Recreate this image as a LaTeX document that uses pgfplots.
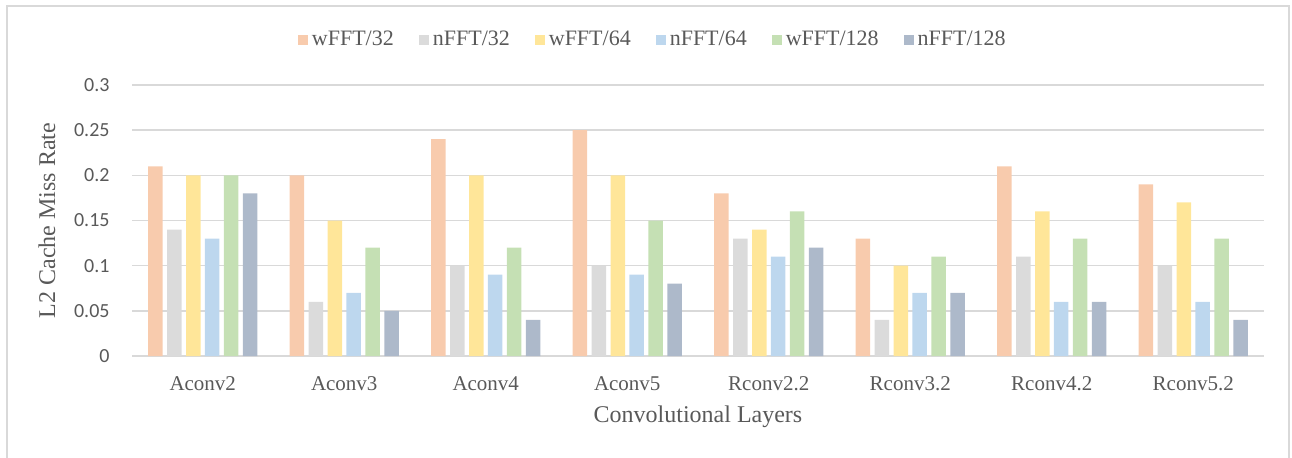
\documentclass[border=0pt]{standalone}
\usepackage{pgfplots}
\pgfplotsset{compat=1.18}
\usepackage{fontspec}
\setmainfont{Liberation Serif}
\newfontfamily\calibri{Carlito}
\definecolor{c1}{HTML}{F8CBAD}
\definecolor{c2}{HTML}{DBDBDB}
\definecolor{c3}{HTML}{FFE699}
\definecolor{c4}{HTML}{BDD7EE}
\definecolor{c5}{HTML}{C5E0B4}
\definecolor{c6}{HTML}{ADB9CA}
\definecolor{gridc}{HTML}{D9D9D9}
\definecolor{framec}{HTML}{D9D9D9}
\definecolor{txt}{HTML}{595959}
\begin{document}
\begin{tikzpicture}
\useasboundingbox (0,0) rectangle (646pt,-228.5pt);
\begin{scope}
\clip (0,0) rectangle (646pt,-228.5pt);
\draw[line width=0.75pt, color=framec] (3.5pt,-3pt) rectangle (644.5pt,-240pt);
\end{scope}
\begin{axis}[
  at={(66pt,-178pt)}, anchor=south west,
  scale only axis, width=566pt, height=135.5pt,
  ybar, bar width=0.1025,
  xmin=-0.5, xmax=7.5, ymin=0, ymax=0.3,
  xtick={0,1,2,3,4,5,6,7},
  xticklabels={Aconv2,Aconv3,Aconv4,Aconv5,Rconv2.2,Rconv3.2,Rconv4.2,Rconv5.2},
  ytick={0,0.05,0.1,0.15,0.2,0.25,0.3},
  yticklabels={0,0.05,0.1,0.15,0.2,0.25,0.3},
  ymajorgrids, grid style={line width=0.75pt, color=gridc},
  axis x line*=bottom, axis y line*=left,
  y axis line style={draw=none},
  x axis line style={line width=0.75pt, color=gridc, -},
  major tick length=0,
  xticklabel style={font=\fontsize{10.5pt}{12pt}\selectfont, text=txt, anchor=base, yshift=-17pt},
  yticklabel style={font=\calibri\fontsize{10pt}{12pt}\selectfont, text=txt, xshift=-7.7pt},
  xlabel={Convolutional Layers},
  xlabel style={at={(axis description cs:0.5,-0.2435)}, anchor=base, font=\fontsize{12pt}{14pt}\selectfont, text=txt},
  ylabel={L2 Cache Miss Rate},
  ylabel style={at={(axis description cs:-0.0751,0.5)}, anchor=center, font=\fontsize{12pt}{14pt}\selectfont, text=txt},
  legend style={at={(0.461,1.166)}, anchor=center, draw=none, fill=none,
    legend columns=6, font=\fontsize{11pt}{13pt}\selectfont, text=txt,
    /tikz/every even column/.append style={column sep=10.5pt},
    legend cell align=left},
  legend image code/.code={\fill[#1] (0pt,-2.5pt) rectangle (5pt,2.5pt);},
]
\addplot[fill=c1, draw=none, bar shift=-0.335] coordinates {(0,0.21) (1,0.20) (2,0.24) (3,0.25) (4,0.18) (5,0.13) (6,0.21) (7,0.19)};
\addplot[fill=c2, draw=none, bar shift=-0.201] coordinates {(0,0.14) (1,0.06) (2,0.10) (3,0.10) (4,0.13) (5,0.04) (6,0.11) (7,0.10)};
\addplot[fill=c3, draw=none, bar shift=-0.067] coordinates {(0,0.20) (1,0.15) (2,0.20) (3,0.20) (4,0.14) (5,0.10) (6,0.16) (7,0.17)};
\addplot[fill=c4, draw=none, bar shift=0.067] coordinates {(0,0.13) (1,0.07) (2,0.09) (3,0.09) (4,0.11) (5,0.07) (6,0.06) (7,0.06)};
\addplot[fill=c5, draw=none, bar shift=0.201] coordinates {(0,0.20) (1,0.12) (2,0.12) (3,0.15) (4,0.16) (5,0.11) (6,0.13) (7,0.13)};
\addplot[fill=c6, draw=none, bar shift=0.335] coordinates {(0,0.18) (1,0.05) (2,0.04) (3,0.08) (4,0.12) (5,0.07) (6,0.06) (7,0.04)};
\legend{wFFT/32,nFFT/32,wFFT/64,nFFT/64,wFFT/128,nFFT/128}
\end{axis}
\end{tikzpicture}
\end{document}
